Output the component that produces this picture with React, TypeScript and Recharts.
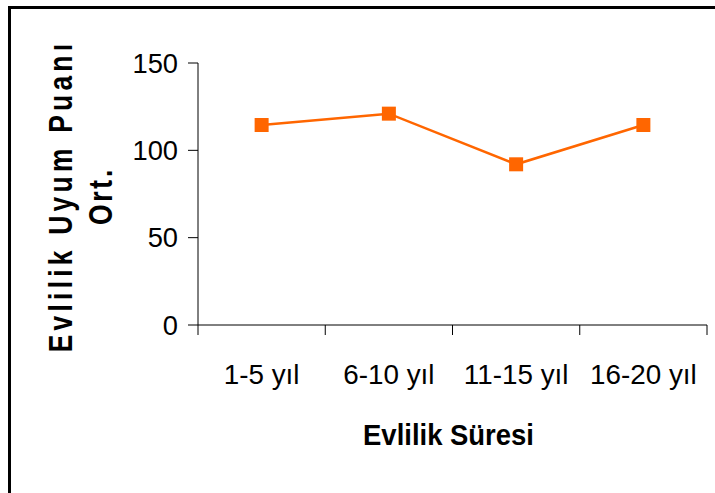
import React from 'react';
import { LineChart, Line, XAxis, YAxis } from 'recharts';

const categories = ['1-5 yıl', '6-10 yıl', '11-15 yıl', '16-20 yıl'];
const scores = [114.5, 121, 92, 114.5];
const yTicks = [0, 50, 100, 150];
const xTitle = 'Evlilik Süresi';
const yTitle1 = 'Evlilik Uyum Puanı';
const yTitle2 = 'Ort.';

const data = categories.map((name, i) => ({ pos: i + 0.5, name, score: scores[i] }));
const xTicks = categories.flatMap((_, i) => [i, i + 0.5]).concat([categories.length]);

const FONT = '"Liberation Sans", Arial, sans-serif';
const ORANGE = '#FF6600';

const XTick = (props: any) => {
  const { x, y, payload } = props;
  const v = payload.value;
  if (Number.isInteger(v)) {
    return <line x1={x} x2={x} y1={y} y2={y + 10} stroke="#000" strokeWidth={1} />;
  }
  return (
    <text
      transform={`translate(${x},${y + 39}) scale(1.07,1.06)`}
      x={0}
      y={0}
      dy="0.71em"
      textAnchor="middle"
      fontFamily={FONT}
      fontSize={26}
      fill="#000"
    >
      {categories[Math.floor(v)]}
    </text>
  );
};

const YTick = (props: any) => {
  const { x, y, payload } = props;
  return (
    <text
      transform={`translate(${x},${y}) scale(1.05,1.06)`}
      x={0}
      y={0}
      dy="0.355em"
      textAnchor="end"
      fontFamily={FONT}
      fontSize={26}
      fill="#000"
    >
      {payload.value}
    </text>
  );
};

const SquareDot = (props: any) => {
  const { cx, cy, index } = props;
  if (cx == null || cy == null) return null;
  return <rect key={index} x={cx - 7} y={cy - 7} width={14} height={14} fill={ORANGE} />;
};

const YTitle = (props: any) => {
  const vb = props.viewBox || { x: 0, y: 63, width: 198, height: 262 };
  const cy = vb.y + vb.height / 2 + 2;
  return (
    <g>
      <text
        transform={`translate(${vb.x + 72},${cy}) rotate(-90) scale(0.8,1)`}
        x={0}
        y={0}
        textAnchor="middle"
        fontFamily={FONT}
        fontWeight="bold"
        fontSize={33}
        letterSpacing={5.3}
        fill="#000"
      >
        {yTitle1}
      </text>
      <text
        transform={`translate(${vb.x + 112},${cy}) rotate(-90) scale(0.8,1)`}
        x={0}
        y={0}
        textAnchor="middle"
        fontFamily={FONT}
        fontWeight="bold"
        fontSize={33}
        letterSpacing={3.5}
        fill="#000"
      >
        {yTitle2}
      </text>
    </g>
  );
};

const XTitle = (props: any) => {
  const vb = props.viewBox || { x: 198, y: 325, width: 509, height: 168 };
  const cx = vb.x + vb.width / 2 - 4;
  return (
    <text
      transform={`translate(${cx},445) scale(0.915,1)`}
      x={0}
      y={0}
      textAnchor="middle"
      fontFamily={FONT}
      fontWeight="bold"
      fontSize={30}
      fill="#000"
    >
      {xTitle}
    </text>
  );
};

export default function App() {
  return (
    <div style={{ position: 'absolute', left: 0, top: 0, width: 715, height: 493, overflow: 'hidden', background: '#fff' }}>
      <div
        style={{
          position: 'absolute',
          left: 8,
          top: 6,
          width: 800,
          height: 600,
          borderLeft: '3px solid #000',
          borderTop: '3px solid #000',
        }}
      />
      <div style={{ position: 'absolute', left: 0, top: 0 }}>
        <LineChart
          width={715}
          height={493}
          data={data}
          margin={{ top: 63, right: 8, bottom: 0, left: 0 }}
          style={{ fontFamily: FONT }}
        >
          <XAxis
            dataKey="pos"
            type="number"
            domain={[0, categories.length]}
            ticks={xTicks}
            interval={0}
            tickLine={false}
            tickSize={0}
            tickMargin={0}
            height={168}
            axisLine={{ stroke: '#000', strokeWidth: 1 }}
            tick={<XTick />}
            label={<XTitle />}
          />
          <YAxis
            type="number"
            domain={[0, 150]}
            ticks={yTicks}
            interval={0}
            width={198}
            tickSize={10}
            tickMargin={10}
            axisLine={{ stroke: '#000', strokeWidth: 1 }}
            tickLine={{ stroke: '#000', strokeWidth: 1 }}
            tick={<YTick />}
            label={<YTitle />}
          />
          <Line
            dataKey="score"
            stroke={ORANGE}
            strokeWidth={2.5}
            isAnimationActive={false}
            dot={<SquareDot />}
            activeDot={false}
          />
        </LineChart>
      </div>
    </div>
  );
}
